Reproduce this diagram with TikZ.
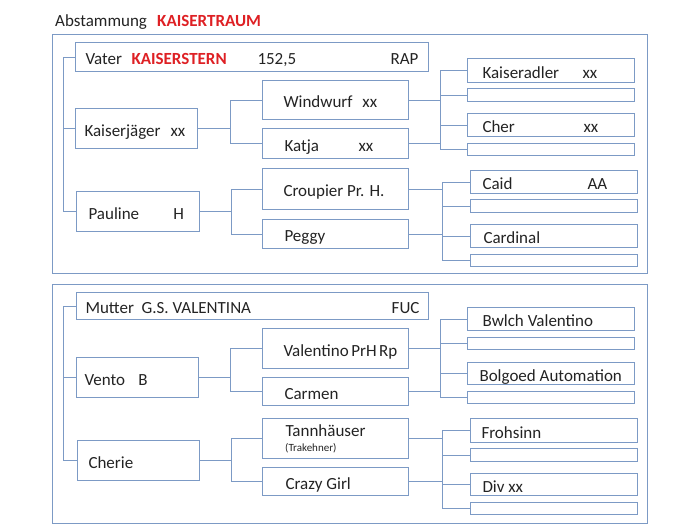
\documentclass[tikz,border=0pt]{standalone}
\usepackage{fontspec}
\setmainfont{Carlito}
\definecolor{lineblue}{RGB}{124,154,197}
\definecolor{kred}{RGB}{222,32,36}
\definecolor{ink}{RGB}{35,35,35}

\begin{document}
\begin{tikzpicture}[x=1pt, y=-1pt, font=\fontsize{17}{20}\selectfont,
  pbox/.style={draw=lineblue, line width=1pt, anchor=north west, inner ysep=0pt, text height=15pt, text depth=0pt, text=ink,
    execute at begin node={\hbox to #1pt\bgroup}, execute at end node={\hfil\egroup}},
  blank/.style={draw=lineblue, line width=1pt, anchor=north west, inner sep=0pt, minimum width=167pt},
  link/.style={draw=lineblue, line width=1pt}]
\useasboundingbox (0,0) rectangle (700,525);
\node[anchor=base west, text=ink, inner sep=0pt] (title) at (55,26) {\makebox[102pt][l]{Abstammung}{\color{kred}\bfseries KAISERTRAUM}};
% Vater
\draw[link] (52,34) rectangle (647,273);
\node[pbox=333, inner xsep=10, minimum height=29] (vater) at (75,42) {\makebox[46pt][l]{Vater}\makebox[126pt][l]{\color{kred}\bfseries KAISERSTERN}152,5\hfill RAP};
\node[pbox=104, inner xsep=9, minimum height=40] (kj) at (75,108) {\makebox[86pt][l]{Kaiserjäger}xx};
\node[pbox=99, inner xsep=12, minimum height=40] (paul) at (76,191) {\makebox[85pt][l]{Pauline}H};
\node[pbox=104, inner xsep=21, minimum height=39] (ww) at (262,80) {\makebox[79pt][l]{Windwurf}xx};
\node[pbox=102, inner xsep=22, minimum height=30] (kt) at (262,128) {\makebox[74pt][l]{Katja}xx};
\node[pbox=104, inner xsep=21, minimum height=41] (cr) at (262,168) {Croupier Pr. H.};
\node[pbox=102, inner xsep=22, minimum height=29] (pg) at (262,219) {Peggy};
\node[pbox=137, inner xsep=15, minimum height=24] (kad) at (467,58) {\makebox[100pt][l]{Kaiseradler}xx};
\node[blank, minimum height=13] (kadb) at (467,88) {};
\node[pbox=137, inner xsep=15, minimum height=23] (cher) at (467,113) {\makebox[101pt][l]{Cher}xx};
\node[blank, minimum height=12] (cherb) at (467,143) {};
\node[pbox=143, inner xsep=12, minimum height=23] (caid) at (470,170) {\makebox[105pt][l]{Caid}AA};
\node[blank, minimum height=13] (caidb) at (470,199) {};
\node[pbox=141, inner xsep=13, minimum height=23] (card) at (470,224) {Cardinal};
\node[blank, minimum height=12] (cardb) at (470,254) {};
\draw[link] (vater.west) -- ++(-12,0) |- (paul.west);
\draw[link] (kj.west) -- ++(-12,0);
\draw[link] (kj.east) -- ++(33,0);
\draw[link] (ww.west) -- ++(-32,0) |- (kt.west);
\draw[link] (paul.east) -- ++(32,0);
\draw[link] (cr.west) -- ++(-31,0) |- (pg.west);
\draw[link] (ww.east) -- ++(32,0);
\draw[link] (kt.east) -- ++(32,0);
\draw[link] (kad.west) -- ++(-27,0) |- (cherb.west);
\draw[link] (kadb.west) -- ++(-27,0);
\draw[link] (cher.west) -- ++(-27,0);
\draw[link] (cr.east) -- ++(34,0);
\draw[link] (pg.east) -- ++(34,0);
\draw[link] (caid.west) -- ++(-28,0) |- (cardb.west);
\draw[link] (caidb.west) -- ++(-28,0);
\draw[link] (card.west) -- ++(-28,0);
% Mutter
\draw[link] (52,284) rectangle (647,523);
\node[pbox=334, inner xsep=9, minimum height=27] (mut) at (76,292) {Mutter\ \ G.S. VALENTINA\hfill FUC};
\node[pbox=106, inner xsep=8, minimum height=40] (vento) at (76,357) {\makebox[54pt][l]{Vento}B};
\node[pbox=100, inner xsep=11, minimum height=40] (cherie) at (77,440) {Cherie};
\node[pbox=104, inner xsep=21, minimum height=40] (val) at (262,328) {Valentino PrH Rp};
\node[pbox=102, inner xsep=22, minimum height=28] (carm) at (262,377) {Carmen};
\node[pbox=100, inner xsep=23, minimum height=40, text height=11pt, text depth=15pt] (tann) at (262,418) {Tannhäuser};
\node[anchor=base west, inner sep=0pt, text=ink, font=\fontsize{11}{13}\selectfont] (trak) at (285,451) {(Trakehner)};
\node[pbox=100, inner xsep=23, minimum height=28] (crazy) at (262,467) {Crazy Girl};
\node[pbox=137, inner xsep=15, minimum height=23] (bw) at (467,307) {Bwlch Valentino};
\node[blank, minimum height=12] (bwb) at (467,337) {};
\node[pbox=143, inner xsep=12, minimum height=22] (bol) at (467,362) {Bolgoed Automation};
\node[blank, minimum height=12] (bolb) at (467,391) {};
\node[pbox=145, inner xsep=11, minimum height=24] (froh) at (470,418) {Frohsinn};
\node[blank, minimum height=13] (frohb) at (470,448) {};
\node[pbox=143, inner xsep=12, minimum height=22] (div) at (470,473) {Div xx};
\node[blank, minimum height=12] (divb) at (470,502) {};
\draw[link] (mut.west) -- ++(-13,0) |- (cherie.west);
\draw[link] (vento.west) -- ++(-13,0);
\draw[link] (vento.east) -- ++(32,0);
\draw[link] (val.west) -- ++(-32,0) |- (carm.west);
\draw[link] (cherie.east) -- ++(32,0);
\draw[link] (tann.west) -- ++(-31,0) |- (crazy.west);
\draw[link] (val.east) -- ++(32,0);
\draw[link] (carm.east) -- ++(32,0);
\draw[link] (bw.west) -- ++(-27,0) |- (bolb.west);
\draw[link] (bwb.west) -- ++(-27,0);
\draw[link] (bol.west) -- ++(-27,0);
\draw[link] (tann.east) -- ++(34,0);
\draw[link] (crazy.east) -- ++(34,0);
\draw[link] (froh.west) -- ++(-28,0) |- (divb.west);
\draw[link] (frohb.west) -- ++(-28,0);
\draw[link] (div.west) -- ++(-28,0);
\end{tikzpicture}
\end{document}
